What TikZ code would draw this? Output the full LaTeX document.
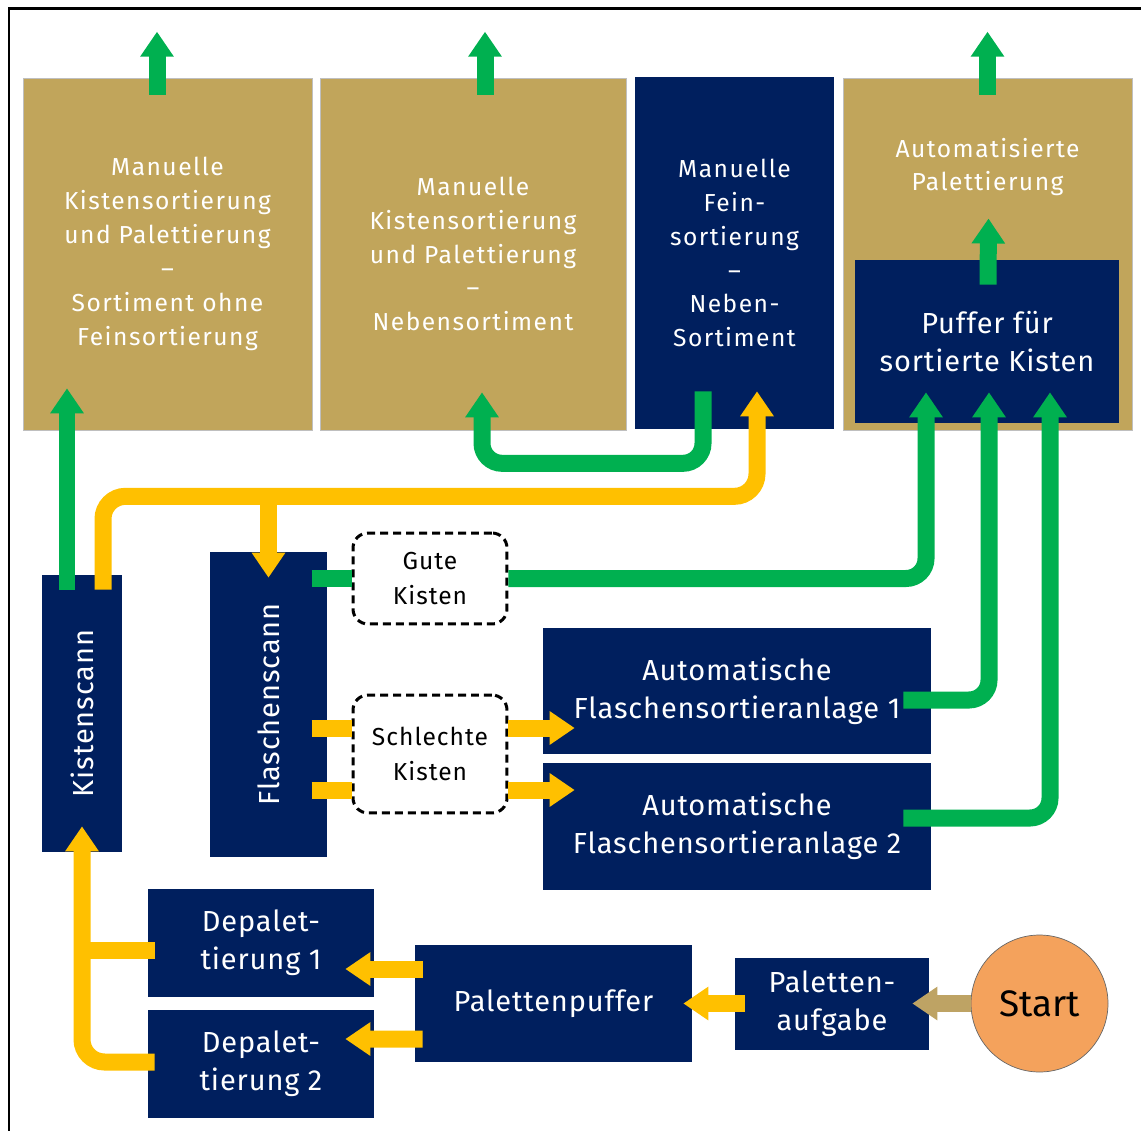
\documentclass[tikz,border=0pt]{standalone}
\usepackage{fontspec}
\setmainfont{Fira Sans}
\usetikzlibrary{arrows.meta,calc}
\definecolor{gold}{RGB}{193,165,91}
\definecolor{navy}{RGB}{0,31,94}
\definecolor{flowgreen}{RGB}{0,176,80}
\definecolor{flowyellow}{RGB}{255,192,0}
\definecolor{startorange}{RGB}{244,162,92}
\definecolor{startarrow}{RGB}{190,163,100}

\begin{document}
\begin{tikzpicture}[x=0.02cm,y=-0.02cm,
    every node/.style={font=\fontsize{16.5}{21.6}\selectfont\addfontfeature{LetterSpace=3},
      align=center,inner sep=0pt},
    topfont/.style={font=\fontsize{14}{19.3}\selectfont\addfontfeature{LetterSpace=6}},
    goldbox/.style={fill=gold,draw=black!25,text=white,topfont},
    navybox/.style={fill=navy,text=white},
    dashbox/.style={draw=black,line width=0.06cm,dash pattern=on 0.16cm off 0.1cm,
      rounded corners=0.3cm,font=\fontsize{14}{19.5}\selectfont\addfontfeature{LetterSpace=4}},
    gline/.style={draw=flowgreen,line width=0.34cm},
    yline/.style={draw=flowyellow,line width=0.34cm},
    garrow/.style={gline,-{Triangle[width=0.64cm,length=0.5cm]}},
    yarrow/.style={yline,-{Triangle[width=0.64cm,length=0.5cm]}}]
    \useasboundingbox (0,0) rectangle (1141,1131);
    \draw[line width=0.06cm] (1141,9) -| (9,1131);

    \node[goldbox,minimum width=5.78cm,minimum height=7.04cm] (m1) at (167.5,254)
      {Manuelle\\Kistensortierung\\und Palettierung\\–\\Sortiment ohne\\Feinsortierung};
    \node[goldbox,minimum width=6.12cm,minimum height=7.04cm] (m2) at (473,254)
      {Manuelle\\Kistensortierung\\und Palettierung\\–\\Nebensortiment};
    \node[navybox,topfont,minimum width=3.98cm,minimum height=7.04cm] (m3) at (734.5,253)
      {Manuelle\\Fein-\\sortierung\\–\\Neben-\\Sortiment};
    \node[goldbox,minimum width=5.78cm,minimum height=7.04cm] (pal) at (987.5,254) {};
    \node[topfont,text=white] (paltext) at (987.5,167) {Automatisierte\\Palettierung};
    \node[navybox,minimum width=5.28cm,minimum height=3.26cm] (puf) at (987,341.5)
      {Puffer für\\sortierte Kisten};

    \node[navybox,minimum width=1.6cm,minimum height=5.54cm] (ks) at (82,713.5)
      {\rotatebox{90}{Kistenscann}};
    \node[navybox,minimum width=2.34cm,minimum height=6.1cm] (fs) at (268.5,704.5)
      {\rotatebox{90}{Flaschenscann}};
    \node[dashbox,minimum width=3.08cm,minimum height=1.82cm] (gute) at (430,578.5) {Gute\\Kisten};
    \node[dashbox,minimum width=3.08cm,minimum height=2.36cm] (schlecht) at (430,754) {Schlechte\\Kisten};
    \node[navybox,minimum width=7.76cm,minimum height=2.52cm] (anl1) at (737,691)
      {Automatische\\Flaschensortieranlage 1};
    \node[navybox,minimum width=7.76cm,minimum height=2.54cm] (anl2) at (737,826.5)
      {Automatische\\Flaschensortieranlage 2};

    \node[navybox,minimum width=4.52cm,minimum height=2.16cm] (dep1) at (261,943) {Depalet-\\tierung 1};
    \node[navybox,minimum width=4.52cm,minimum height=2.16cm] (dep2) at (261,1064) {Depalet-\\tierung 2};
    \node[navybox,minimum width=5.54cm,minimum height=2.34cm] (pp) at (553.5,1003.5) {Palettenpuffer};
    \node[navybox,minimum width=3.88cm,minimum height=1.84cm] (pa) at (832,1003.5) {Paletten-\\aufgabe};
    \node[circle,fill=startorange,draw=black!60,minimum size=2.74cm,
      font=\fontsize{21}{24}\selectfont] (start) at (1039.5,1003.5) {Start};

    \draw[garrow] ($(m1.north)+(-10.5,17)$) -- ++(0,-63);
    \draw[garrow] ($(m2.north)+(12,17)$) -- ++(0,-63);
    \draw[garrow] ($(pal.north)+(0,17)$) -- ++(0,-63);
    \draw[garrow] ($(puf.north)+(1,25)$) -- ($(paltext.south)+(1,22)$);

    \draw[garrow] ($(ks.north)+(-15,15)$) -- ($(m1.south)+(-100.5,-42)$);
    \draw[yarrow,rounded corners=0.45cm] ($(ks.north)+(21,15)$) |- ($(m3.south)+(22.5,67)$)
      -- ($(m3.south)+(22.5,-38)$);
    \draw[yarrow] ($(fs.north)+(0,-55)$) -- ($(fs.north)+(0,26)$);
    \draw[garrow,rounded corners=0.4cm] ($(m3.south)+(-31.5,-38)$) |- ($(m2.south)+(9,33)$)
      -- ($(m2.south)+(9,-38)$);

    \draw[gline] ($(gute.west)+(-40,0)$) -- (gute.west);
    \draw[garrow,rounded corners=0.4cm] (gute.east) -| ($(puf.south)+(-61,-31)$);
    \draw[garrow,rounded corners=0.4cm] ($(anl1.east)+(-28,9)$) -| ($(puf.south)+(2,-31)$);
    \draw[garrow,rounded corners=0.4cm] ($(anl2.east)+(-28,-8.5)$) -| ($(puf.south)+(63,-31)$);

    \draw[yline] ($(schlecht.west)+(-40,-26)$) -- ++(40,0);
    \draw[yline] ($(schlecht.west)+(-40,36)$) -- ++(40,0);
    \draw[yarrow] ($(schlecht.east)+(0,-26)$) -- ($(anl1.west)+(32,37)$);
    \draw[yarrow] ($(schlecht.east)+(0,36)$) -- ($(anl2.west)+(32,-36.5)$);

    \draw[yarrow] ($(pp.west)+(8,-34.5)$) -- ($(dep1.east)+(-29,26)$);
    \draw[yarrow] ($(pp.west)+(8,35.5)$) -- ($(dep2.east)+(-29,-25)$);
    \draw[yarrow] ($(pa.west)+(10,0)$) -- ($(pp.east)+(-9,0)$);
    \draw[startarrow,line width=0.34cm,-{Triangle[width=0.64cm,length=0.5cm]}]
      (start.west) -- ($(pa.east)+(-17,0)$);

    \draw[yline] ($(dep1.west)+(7,7)$) -- ++(-73,0);
    \draw[yarrow,rounded corners=0.45cm] ($(dep2.west)+(7,-2)$) -| ($(ks.south)+(0,-26)$);
\end{tikzpicture}
\end{document}
